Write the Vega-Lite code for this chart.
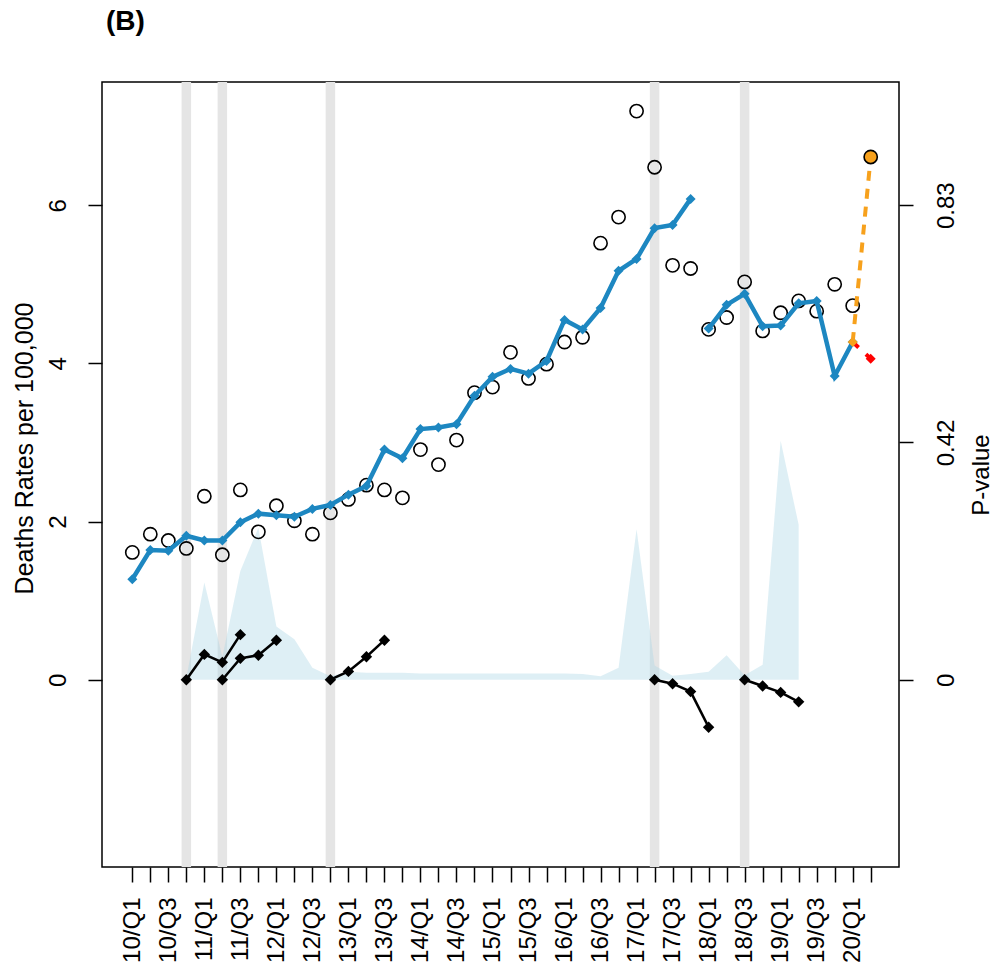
{
  "$schema": "https://vega.github.io/schema/vega-lite/v6.json",
  "width": 797,
  "height": 785,
  "autosize": {"type": "none"},
  "padding": {"left": 102, "top": 82, "right": 107, "bottom": 104},
  "background": "white",
  "title": {
    "text": "(B)",
    "anchor": "start",
    "frame": "group",
    "font": "Liberation Sans",
    "fontSize": 28,
    "fontWeight": "bold",
    "color": "black",
    "baseline": "bottom",
    "offset": 13,
    "dx": 4
  },
  "config": {
    "view": {"stroke": "black", "strokeWidth": 1.5},
    "axis": {
      "domain": false,
      "grid": false,
      "tickColor": "black",
      "tickWidth": 1.5,
      "labelColor": "black",
      "titleColor": "black",
      "labelFont": "Liberation Sans",
      "titleFont": "Liberation Sans",
      "titleFontWeight": "normal",
      "labelOverlap": false,
      "labelFlush": false,
      "labelBound": false
    }
  },
  "datasets": {
    "observed": [
      {"quarter": "10/Q1", "rate": 1.61}, {"quarter": "10/Q2", "rate": 1.84},
      {"quarter": "10/Q3", "rate": 1.76}, {"quarter": "10/Q4", "rate": 1.66},
      {"quarter": "11/Q1", "rate": 2.32}, {"quarter": "11/Q2", "rate": 1.58},
      {"quarter": "11/Q3", "rate": 2.40}, {"quarter": "11/Q4", "rate": 1.87},
      {"quarter": "12/Q1", "rate": 2.20}, {"quarter": "12/Q2", "rate": 2.01},
      {"quarter": "12/Q3", "rate": 1.84}, {"quarter": "12/Q4", "rate": 2.11},
      {"quarter": "13/Q1", "rate": 2.28}, {"quarter": "13/Q2", "rate": 2.46},
      {"quarter": "13/Q3", "rate": 2.40}, {"quarter": "13/Q4", "rate": 2.30},
      {"quarter": "14/Q1", "rate": 2.91}, {"quarter": "14/Q2", "rate": 2.72},
      {"quarter": "14/Q3", "rate": 3.03}, {"quarter": "14/Q4", "rate": 3.63},
      {"quarter": "15/Q1", "rate": 3.70}, {"quarter": "15/Q2", "rate": 4.14},
      {"quarter": "15/Q3", "rate": 3.81}, {"quarter": "15/Q4", "rate": 3.99},
      {"quarter": "16/Q1", "rate": 4.27}, {"quarter": "16/Q2", "rate": 4.33},
      {"quarter": "16/Q3", "rate": 5.52}, {"quarter": "16/Q4", "rate": 5.85},
      {"quarter": "17/Q1", "rate": 7.19}, {"quarter": "17/Q2", "rate": 6.48},
      {"quarter": "17/Q3", "rate": 5.24}, {"quarter": "17/Q4", "rate": 5.20},
      {"quarter": "18/Q1", "rate": 4.43}, {"quarter": "18/Q2", "rate": 4.58},
      {"quarter": "18/Q3", "rate": 5.03}, {"quarter": "18/Q4", "rate": 4.41},
      {"quarter": "19/Q1", "rate": 4.64}, {"quarter": "19/Q2", "rate": 4.79},
      {"quarter": "19/Q3", "rate": 4.66}, {"quarter": "19/Q4", "rate": 5.00},
      {"quarter": "20/Q1", "rate": 4.73}, {"quarter": "20/Q2", "rate": 6.61}
    ],
    "fitted": [
      {"quarter": "10/Q1", "rate": 1.27, "segment": "before"},
      {"quarter": "10/Q2", "rate": 1.64, "segment": "before"},
      {"quarter": "10/Q3", "rate": 1.63, "segment": "before"},
      {"quarter": "10/Q4", "rate": 1.82, "segment": "before"},
      {"quarter": "11/Q1", "rate": 1.76, "segment": "before"},
      {"quarter": "11/Q2", "rate": 1.76, "segment": "before"},
      {"quarter": "11/Q3", "rate": 1.99, "segment": "before"},
      {"quarter": "11/Q4", "rate": 2.10, "segment": "before"},
      {"quarter": "12/Q1", "rate": 2.08, "segment": "before"},
      {"quarter": "12/Q2", "rate": 2.06, "segment": "before"},
      {"quarter": "12/Q3", "rate": 2.16, "segment": "before"},
      {"quarter": "12/Q4", "rate": 2.21, "segment": "before"},
      {"quarter": "13/Q1", "rate": 2.34, "segment": "before"},
      {"quarter": "13/Q2", "rate": 2.45, "segment": "before"},
      {"quarter": "13/Q3", "rate": 2.91, "segment": "before"},
      {"quarter": "13/Q4", "rate": 2.80, "segment": "before"},
      {"quarter": "14/Q1", "rate": 3.17, "segment": "before"},
      {"quarter": "14/Q2", "rate": 3.19, "segment": "before"},
      {"quarter": "14/Q3", "rate": 3.23, "segment": "before"},
      {"quarter": "14/Q4", "rate": 3.59, "segment": "before"},
      {"quarter": "15/Q1", "rate": 3.83, "segment": "before"},
      {"quarter": "15/Q2", "rate": 3.93, "segment": "before"},
      {"quarter": "15/Q3", "rate": 3.87, "segment": "before"},
      {"quarter": "15/Q4", "rate": 4.03, "segment": "before"},
      {"quarter": "16/Q1", "rate": 4.55, "segment": "before"},
      {"quarter": "16/Q2", "rate": 4.43, "segment": "before"},
      {"quarter": "16/Q3", "rate": 4.70, "segment": "before"},
      {"quarter": "16/Q4", "rate": 5.17, "segment": "before"},
      {"quarter": "17/Q1", "rate": 5.32, "segment": "before"},
      {"quarter": "17/Q2", "rate": 5.71, "segment": "before"},
      {"quarter": "17/Q3", "rate": 5.75, "segment": "before"},
      {"quarter": "17/Q4", "rate": 6.08, "segment": "before"},
      {"quarter": "18/Q1", "rate": 4.44, "segment": "after"},
      {"quarter": "18/Q2", "rate": 4.74, "segment": "after"},
      {"quarter": "18/Q3", "rate": 4.88, "segment": "after"},
      {"quarter": "18/Q4", "rate": 4.47, "segment": "after"},
      {"quarter": "19/Q1", "rate": 4.48, "segment": "after"},
      {"quarter": "19/Q2", "rate": 4.76, "segment": "after"},
      {"quarter": "19/Q3", "rate": 4.79, "segment": "after"},
      {"quarter": "19/Q4", "rate": 3.84, "segment": "after"},
      {"quarter": "20/Q1", "rate": 4.27, "segment": "after"}
    ],
    "slopes": [
      {"quarter": "10/Q4", "rate": 0.0, "segment": "A"},
      {"quarter": "11/Q1", "rate": 0.32, "segment": "A"},
      {"quarter": "11/Q2", "rate": 0.22, "segment": "A"},
      {"quarter": "11/Q3", "rate": 0.57, "segment": "A"},
      {"quarter": "11/Q2", "rate": 0.0, "segment": "B"},
      {"quarter": "11/Q3", "rate": 0.27, "segment": "B"},
      {"quarter": "11/Q4", "rate": 0.31, "segment": "B"},
      {"quarter": "12/Q1", "rate": 0.50, "segment": "B"},
      {"quarter": "12/Q4", "rate": 0.0, "segment": "C"},
      {"quarter": "13/Q1", "rate": 0.105, "segment": "C"},
      {"quarter": "13/Q2", "rate": 0.29, "segment": "C"},
      {"quarter": "13/Q3", "rate": 0.50, "segment": "C"},
      {"quarter": "17/Q2", "rate": 0.0, "segment": "D"},
      {"quarter": "17/Q3", "rate": -0.05, "segment": "D"},
      {"quarter": "17/Q4", "rate": -0.15, "segment": "D"},
      {"quarter": "18/Q1", "rate": -0.60, "segment": "D"},
      {"quarter": "18/Q3", "rate": 0.0, "segment": "E"},
      {"quarter": "18/Q4", "rate": -0.08, "segment": "E"},
      {"quarter": "19/Q1", "rate": -0.16, "segment": "E"},
      {"quarter": "19/Q2", "rate": -0.28, "segment": "E"}
    ],
    "pvalues": [
      {"quarter": "10/Q4", "p": 0.003}, {"quarter": "11/Q1", "p": 0.170},
      {"quarter": "11/Q2", "p": 0.040}, {"quarter": "11/Q3", "p": 0.190},
      {"quarter": "11/Q4", "p": 0.266}, {"quarter": "12/Q1", "p": 0.093},
      {"quarter": "12/Q2", "p": 0.071}, {"quarter": "12/Q3", "p": 0.021},
      {"quarter": "12/Q4", "p": 0.006}, {"quarter": "13/Q1", "p": 0.014},
      {"quarter": "13/Q2", "p": 0.012}, {"quarter": "13/Q3", "p": 0.012},
      {"quarter": "13/Q4", "p": 0.012}, {"quarter": "14/Q1", "p": 0.011},
      {"quarter": "14/Q2", "p": 0.011}, {"quarter": "14/Q3", "p": 0.011},
      {"quarter": "14/Q4", "p": 0.011}, {"quarter": "15/Q1", "p": 0.011},
      {"quarter": "15/Q2", "p": 0.011}, {"quarter": "15/Q3", "p": 0.011},
      {"quarter": "15/Q4", "p": 0.011}, {"quarter": "16/Q1", "p": 0.011},
      {"quarter": "16/Q2", "p": 0.010}, {"quarter": "16/Q3", "p": 0.006},
      {"quarter": "16/Q4", "p": 0.021}, {"quarter": "17/Q1", "p": 0.263},
      {"quarter": "17/Q2", "p": 0.025}, {"quarter": "17/Q3", "p": 0.007},
      {"quarter": "17/Q4", "p": 0.010}, {"quarter": "18/Q1", "p": 0.014},
      {"quarter": "18/Q2", "p": 0.043}, {"quarter": "18/Q3", "p": 0.008},
      {"quarter": "18/Q4", "p": 0.026}, {"quarter": "19/Q1", "p": 0.418},
      {"quarter": "19/Q2", "p": 0.271}
    ],
    "breaks": [
      {"quarter": "10/Q4"}, {"quarter": "11/Q2"}, {"quarter": "12/Q4"},
      {"quarter": "17/Q2"}, {"quarter": "18/Q3"}
    ],
    "projection": [
      {"quarter": "20/Q1", "rate": 4.27, "series": "observed"},
      {"quarter": "20/Q2", "rate": 6.61, "series": "observed"},
      {"quarter": "20/Q1", "rate": 4.27, "series": "expected"},
      {"quarter": "20/Q2", "rate": 4.06, "series": "expected"}
    ]
  },
  "encoding": {
    "x": {
      "field": "quarter",
      "type": "ordinal",
      "sort": null,
      "scale": {
        "type": "point",
        "padding": 0,
        "range": [30.3, 768.7],
        "domain": [
          "10/Q1", "10/Q2", "10/Q3", "10/Q4", "11/Q1", "11/Q2", "11/Q3", "11/Q4",
          "12/Q1", "12/Q2", "12/Q3", "12/Q4", "13/Q1", "13/Q2", "13/Q3", "13/Q4",
          "14/Q1", "14/Q2", "14/Q3", "14/Q4", "15/Q1", "15/Q2", "15/Q3", "15/Q4",
          "16/Q1", "16/Q2", "16/Q3", "16/Q4", "17/Q1", "17/Q2", "17/Q3", "17/Q4",
          "18/Q1", "18/Q2", "18/Q3", "18/Q4", "19/Q1", "19/Q2", "19/Q3", "19/Q4",
          "20/Q1", "20/Q2"
        ]
      },
      "axis": {
        "title": null,
        "orient": "bottom",
        "tickSize": 15,
        "labelAngle": -90,
        "labelAlign": "right",
        "labelBaseline": "middle",
        "labelPadding": 15,
        "labelFontSize": 24,
        "labelExpr": "indexof(datum.value, 'Q1') >= 0 || indexof(datum.value, 'Q3') >= 0 ? datum.value : ''"
      }
    }
  },
  "layer": [
    {
      "data": {"name": "breaks"},
      "mark": {"type": "rule", "color": "#e5e5e5", "strokeWidth": 9.5},
      "encoding": {}
    },
    {
      "data": {"name": "pvalues"},
      "mark": {"type": "area", "color": "#add8e6", "opacity": 0.4, "interpolate": "linear"},
      "encoding": {
        "y": {
          "field": "p",
          "type": "quantitative",
          "scale": {"domain": [-0.32757, 1.04552], "nice": false, "zero": false},
          "axis": {
            "orient": "right",
            "values": [0, 0.4151, 0.83],
            "labelExpr": "datum.value == 0 ? '0' : format(datum.value, '.2f')",
            "tickSize": 14,
            "labelAngle": -90,
            "labelAlign": "center",
            "labelBaseline": "top",
            "labelPadding": 21,
            "labelFontSize": 24,
            "title": "P-value",
            "titleFontSize": 24,
            "titleAngle": -90,
            "titleBaseline": "top",
            "titlePadding": 11
          }
        },
        "y2": {"datum": 0}
      }
    },
    {
      "encoding": {
        "y": {
          "field": "rate",
          "type": "quantitative",
          "scale": {"domain": [-2.368, 7.558], "nice": false, "zero": false},
          "axis": {
            "orient": "left",
            "values": [0, 2, 4, 6],
            "tickSize": 14,
            "labelAngle": -90,
            "labelAlign": "center",
            "labelBaseline": "bottom",
            "labelPadding": 18,
            "labelFontSize": 24,
            "title": "Deaths Rates per 100,000",
            "titleFontSize": 25,
            "titlePadding": 9,
            "titleY": 366
          }
        }
      },
      "layer": [
        {
          "data": {"name": "slopes"},
          "mark": {
            "type": "line",
            "color": "black",
            "strokeWidth": 2.5,
            "point": {"shape": "diamond", "filled": true, "size": 130, "color": "black"}
          },
          "encoding": {"detail": {"field": "segment"}}
        },
        {
          "data": {"name": "observed"},
          "transform": [{"filter": "datum.quarter != '20/Q2'"}],
          "mark": {"type": "point", "shape": "circle", "filled": false, "stroke": "black", "strokeWidth": 1.6, "size": 175, "opacity": 1},
          "encoding": {}
        },
        {
          "data": {"name": "fitted"},
          "mark": {
            "type": "line",
            "color": "#1d87c1",
            "strokeWidth": 4.5,
            "point": {"shape": "diamond", "filled": true, "size": 100, "color": "#1d87c1"}
          },
          "encoding": {"detail": {"field": "segment"}}
        },
        {
          "data": {"name": "projection"},
          "transform": [{"filter": "datum.series == 'expected'"}],
          "mark": {"type": "line", "color": "#ff0000", "strokeWidth": 4, "strokeDash": [8, 10]},
          "encoding": {}
        },
        {
          "data": {"name": "projection"},
          "transform": [{"filter": "datum.series == 'expected' && datum.quarter == '20/Q2'"}],
          "mark": {"type": "point", "shape": "diamond", "filled": true, "size": 100, "color": "#ff0000", "opacity": 1},
          "encoding": {}
        },
        {
          "data": {"name": "projection"},
          "transform": [{"filter": "datum.series == 'observed'"}],
          "mark": {"type": "line", "color": "#f7a11c", "strokeWidth": 4, "strokeDash": [10, 8]},
          "encoding": {}
        },
        {
          "data": {"name": "projection"},
          "transform": [{"filter": "datum.series == 'observed' && datum.quarter == '20/Q1'"}],
          "mark": {"type": "point", "shape": "diamond", "filled": true, "size": 100, "color": "#f7a11c", "opacity": 1},
          "encoding": {}
        },
        {
          "data": {"name": "observed"},
          "transform": [{"filter": "datum.quarter == '20/Q2'"}],
          "mark": {"type": "point", "shape": "circle", "filled": true, "fill": "#f7a11c", "stroke": "black", "strokeWidth": 1.6, "size": 175, "opacity": 1},
          "encoding": {}
        }
      ]
    }
  ],
  "resolve": {"scale": {"y": "independent"}, "axis": {"y": "independent"}}
}
